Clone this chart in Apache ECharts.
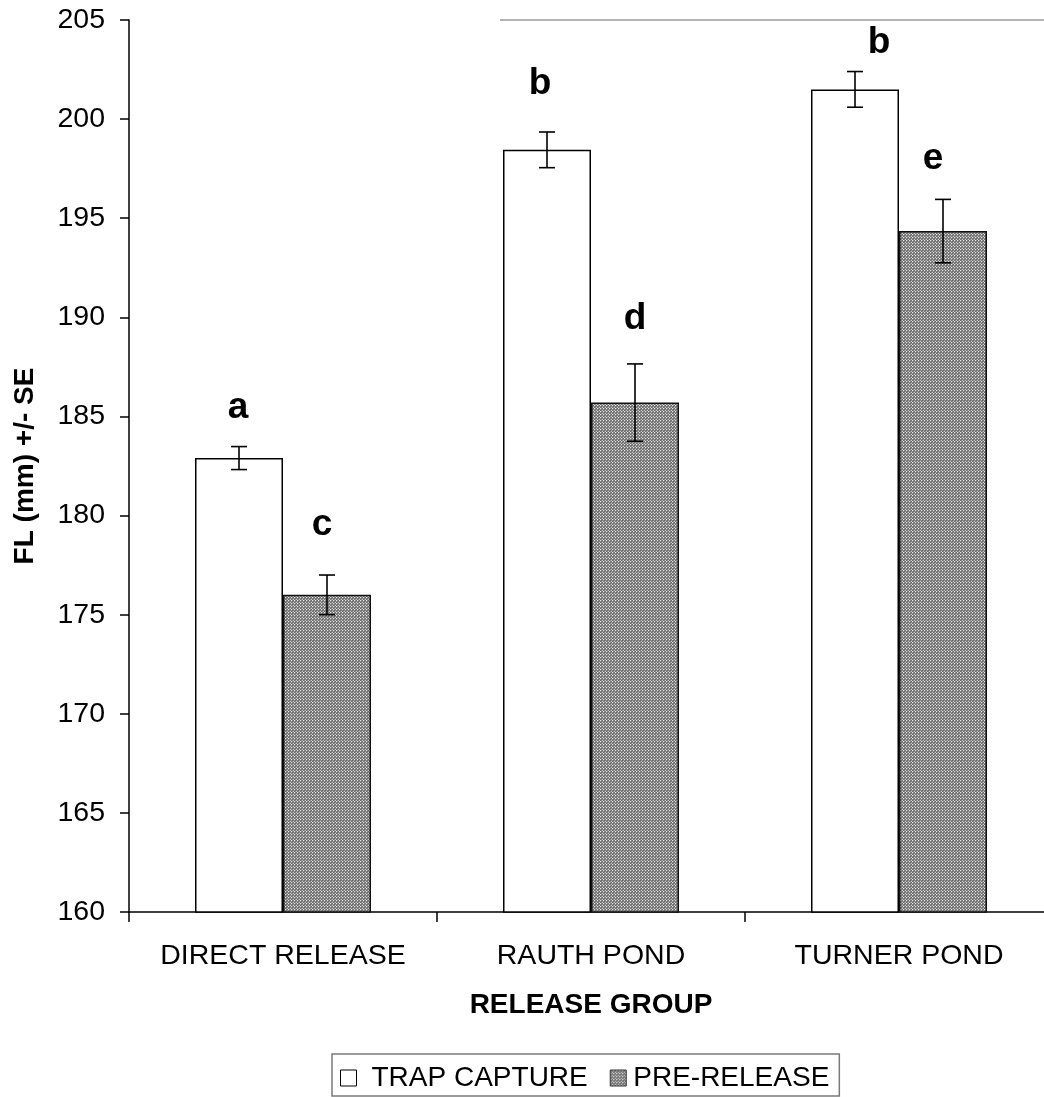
<!DOCTYPE html>
<html>
<head>
<meta charset="utf-8">
<title>Fork length by release group</title>
<script src="https://cdn.jsdelivr.net/npm/echarts@6/dist/echarts.min.js"></script>
<style>
  html, body { margin: 0; padding: 0; background: #fff; overflow: hidden; }
  /* the plot runs a little past the right edge of the window */
  #chart { width: 1060px; height: 1097px; }
</style>
</head>
<body>
<div id="chart"></div>
<script>
// ---- data ----
const categories = ['DIRECT RELEASE', 'RAUTH POND', 'TURNER POND'];
const seriesNames = ['TRAP CAPTURE', 'PRE-RELEASE'];
const trapCapture = [182.9, 198.45, 201.5];
const trapSE = [0.58, 0.9, 0.9];
const preRelease = [176.0, 185.7, 194.35];
const preSE = [1.0, 1.95, 1.6];
const trapLetters = ['a', 'b', 'b'];
const preLetters = ['c', 'd', 'e'];
const yMin = 160, yMax = 205, yStep = 5;

// ---- layout ----
const FONT = '"Liberation Sans", Arial, Helvetica, sans-serif';
const BAR_W = 88;
const CAP_W = 16;
const LETTER_SIZE = 37;
// per-letter nudges: [dx, gap from the error bar top to the letter baseline] in px
const trapLetterNudge = [[-1, 26], [-7, 35], [24, 16]];
const preLetterNudge = [[-5, 37], [0, 32], [-10, 28]];

// stippled grey fill for the pre-release bars
function makeStipple() {
  const c = document.createElement('canvas');
  c.width = 3; c.height = 3;
  const ctx = c.getContext('2d');
  const px = [
    ['#e8e8e8', '#8a8a8a', '#6a6a6a'],
    ['#8a8a8a', '#6a6a6a', '#8a8a8a'],
    ['#6a6a6a', '#8a8a8a', '#c8c8c8']
  ];
  for (let y = 0; y < 3; y++) for (let x = 0; x < 3; x++) {
    ctx.fillStyle = px[y][x];
    ctx.fillRect(x, y, 1, 1);
  }
  return c;
}
const stipple = { image: makeStipple(), repeat: 'repeat' };

function errorSeries(name, means, ses, letters, nudges, side) {
  const data = means.map((m, i) => [i, m - ses[i], m + ses[i]]);
  return {
    type: 'custom',
    name: name + ' SE',
    silent: true,
    z: 5,
    data: data,
    encode: { x: 0, y: [1, 2] },
    renderItem: function (params, api) {
      const i = api.value(0);
      const lo = api.coord([i, api.value(1)]);
      const hi = api.coord([i, api.value(2)]);
      const x = lo[0] + side * BAR_W / 2;
      const half = CAP_W / 2;
      const style = { stroke: '#000', lineWidth: 1.6 };
      const nd = nudges[i];
      // 'bottom' alignment puts the box bottom ~0.15em under the baseline
      const baseY = hi[1] - nd[1] + 0.153 * LETTER_SIZE;
      return {
        type: 'group',
        children: [
          { type: 'line', shape: { x1: x, y1: lo[1], x2: x, y2: hi[1] }, style: style },
          { type: 'line', shape: { x1: x - half, y1: lo[1], x2: x + half, y2: lo[1] }, style: style },
          { type: 'line', shape: { x1: x - half, y1: hi[1], x2: x + half, y2: hi[1] }, style: style },
          {
            type: 'text',
            style: {
              text: letters[i],
              x: x + nd[0],
              y: baseY,
              align: 'center',
              verticalAlign: 'bottom',
              font: 'bold ' + LETTER_SIZE + 'px ' + FONT,
              fill: '#000'
            }
          }
        ]
      };
    }
  };
}

const chart = echarts.init(document.getElementById('chart'), null, { renderer: 'canvas' });
chart.setOption({
  animation: false,
  backgroundColor: '#fff',
  grid: { left: 129, top: 20, width: 924, height: 892, containLabel: false },
  legend: {
    left: 332,
    top: 1054,
    itemWidth: 16,
    itemHeight: 16,
    itemGap: 22,
    padding: [10, 10, 4, 8],
    borderColor: '#7a7a7a',
    borderWidth: 1.5,
    borderRadius: 0,
    selectedMode: false,
    textStyle: { fontFamily: FONT, fontSize: 28, color: '#000' },
    data: [
      { name: seriesNames[0], icon: 'rect', itemStyle: { color: '#fff', borderColor: '#000', borderWidth: 1 }, textStyle: { padding: [0, 0, 0, 10] } },
      { name: seriesNames[1], icon: 'rect', itemStyle: { color: stipple, borderColor: '#333', borderWidth: 1 }, textStyle: { padding: [0, 0, 0, 2] } }
    ]
  },
  xAxis: {
    type: 'category',
    data: categories,
    name: 'RELEASE GROUP',
    nameLocation: 'middle',
    nameGap: 79,
    nameMoveOverlap: false,
    nameTextStyle: { fontFamily: FONT, fontSize: 28, fontWeight: 'bold', color: '#000', verticalAlign: 'top' },
    axisLine: { lineStyle: { color: '#000', width: 1.5 } },
    axisTick: { show: true, interval: 0, length: 10, lineStyle: { color: '#000', width: 1.5 } },
    axisLabel: { interval: 0, fontFamily: FONT, fontSize: 28.5, color: '#000', margin: 30 },
    splitLine: { show: false }
  },
  yAxis: {
    type: 'value',
    min: yMin,
    max: yMax,
    interval: yStep,
    name: 'FL (mm) +/- SE',
    nameLocation: 'middle',
    nameGap: 90,
    nameMoveOverlap: false,
    nameRotate: 90,
    nameTextStyle: { fontFamily: FONT, fontSize: 28, fontWeight: 'bold', color: '#000' },
    axisLine: { show: true, lineStyle: { color: '#000', width: 1.5 } },
    axisTick: { show: true, length: 9, lineStyle: { color: '#000', width: 1.5 } },
    axisLabel: { fontFamily: FONT, fontSize: 28.5, color: '#000', margin: 24 },
    splitLine: { show: false }
  },
  series: [
    {
      type: 'bar',
      name: seriesNames[0],
      data: trapCapture,
      barWidth: BAR_W,
      barGap: '0%',
      itemStyle: { color: '#fff', borderColor: '#000', borderWidth: 1.5 }
    },
    {
      type: 'bar',
      name: seriesNames[1],
      data: preRelease,
      barWidth: BAR_W,
      barGap: '0%',
      itemStyle: { color: stipple, borderColor: '#111', borderWidth: 1.5 }
    },
    errorSeries(seriesNames[0], trapCapture, trapSE, trapLetters, trapLetterNudge, -1),
    errorSeries(seriesNames[1], preRelease, preSE, preLetters, preLetterNudge, 1)
  ],
  graphic: [
    {
      type: 'line',
      silent: true,
      shape: { x1: 500, y1: 20, x2: 1060, y2: 20 },
      style: { stroke: '#9a9a9a', lineWidth: 1.5 }
    }
  ]
});
</script>
</body>
</html>
